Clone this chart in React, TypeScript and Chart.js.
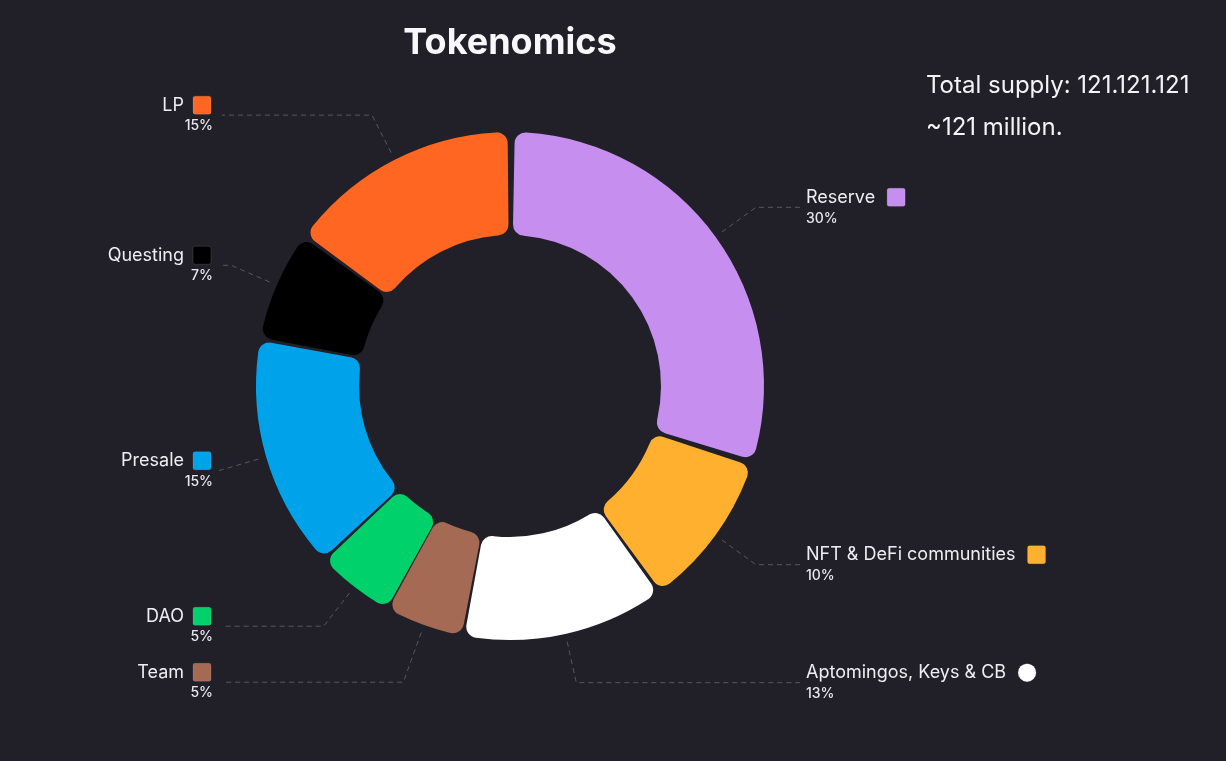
import React, { useEffect, useRef } from 'react';
import { Chart, registerables } from 'chart.js';

Chart.register(...registerables);

const categories = ['Reserve', 'NFT & DeFi communities', 'Aptomingos, Keys & CB', 'Team', 'DAO', 'Presale', 'Questing', 'LP'];
const shares = [30, 10, 13, 5, 5, 15, 7, 15];
const sliceColors = ['#C68EEF', '#FFB02E', '#FFFFFF', '#A56A53', '#00D16B', '#00A3E9', '#000000', '#FF6622'];
const markerShapes = ['square', 'square', 'circle', 'square', 'square', 'square', 'square', 'square'];
const titleText = 'Tokenomics';
const supplyLines = ['Total supply: 121.121.121', '~121 million.'];

const BG = '#211F28';
const FONT = 'Inter, "Noto Sans", sans-serif';

const labelPlugin = {
  id: 'tokenLabels',
  afterDraw(chart: any) {
    const ctx = chart.ctx as CanvasRenderingContext2D;
    const meta = chart.getDatasetMeta(0);
    const rightCol = 800;
    const leftCol = 222;
    const minGap = 56;

    const items = meta.data.map((arc: any, i: number) => {
      const p = arc.getProps(['x', 'y', 'startAngle', 'endAngle', 'outerRadius'], true);
      const mid = (p.startAngle + p.endAngle) / 2;
      const R = p.outerRadius;
      const c = Math.cos(mid);
      const s = Math.sin(mid);
      const right = c >= 0;
      const start = { x: p.x + c * (R + 12), y: p.y + s * (R + 12) };
      const e = { x: p.x + c * (R + 54), y: p.y + s * (R + 54) };
      return { i, mid, c, s, cx: p.x, cy: p.y, right, start, elbow: e, labelY: e.y };
    });

    [true, false].forEach((side) => {
      const list = items.filter((it: any) => it.right === side).sort((a: any, b: any) => a.labelY - b.labelY);
      for (let k = 1; k < list.length; k++) {
        if (list[k].labelY < list[k - 1].labelY + minGap) {
          const it = list[k];
          it.labelY = list[k - 1].labelY + minGap;
          const r = (it.labelY - it.cy) / it.s;
          it.elbow = { x: it.cx + it.c * r, y: it.labelY };
        }
      }
    });

    ctx.save();
    // leader lines
    ctx.strokeStyle = 'rgba(255,255,255,0.25)';
    ctx.lineWidth = 1;
    ctx.setLineDash([5, 4]);
    items.forEach((it: any) => {
      ctx.beginPath();
      ctx.moveTo(it.start.x, it.start.y);
      ctx.lineTo(it.elbow.x, it.elbow.y);
      if (it.right && it.elbow.x < rightCol) ctx.lineTo(rightCol, it.elbow.y);
      if (!it.right && it.elbow.x > leftCol) ctx.lineTo(leftCol, it.elbow.y);
      ctx.stroke();
    });
    ctx.setLineDash([]);

    // labels
    items.forEach((it: any) => {
      const name = categories[it.i];
      const pct = shares[it.i] + '%';
      const nameY = it.labelY - 10;
      const pctY = it.labelY + 11;
      ctx.textBaseline = 'middle';
      ctx.font = `400 18px ${FONT}`;
      ctx.fillStyle = '#EEEEF2';
      let boxX: number;
      if (it.right) {
        ctx.textAlign = 'left';
        ctx.fillText(name, rightCol + 6, nameY);
        boxX = rightCol + 6 + ctx.measureText(name).width + 12;
        ctx.font = `500 14px ${FONT}`;
        ctx.fillStyle = '#E8E8EE';
        ctx.fillText(pct, rightCol + 6, pctY);
      } else {
        ctx.textAlign = 'right';
        ctx.fillText(name, 184, nameY);
        boxX = 193;
        ctx.font = `500 14px ${FONT}`;
        ctx.fillStyle = '#E8E8EE';
        ctx.fillText(pct, 213, pctY);
      }
      ctx.fillStyle = sliceColors[it.i];
      ctx.strokeStyle = 'rgba(255,255,255,0.12)';
      ctx.lineWidth = 1;
      ctx.beginPath();
      if (markerShapes[it.i] === 'circle') {
        ctx.arc(boxX + 9, nameY, 9, 0, Math.PI * 2);
      } else {
        ctx.roundRect(boxX, nameY - 9, 18, 18, 2);
      }
      ctx.fill();
      ctx.stroke();
    });

    // title
    ctx.textAlign = 'center';
    ctx.textBaseline = 'middle';
    ctx.fillStyle = '#F8F8FA';
    ctx.font = `700 36px ${FONT}`;
    ctx.fillText(titleText, 510, 43);

    // supply text
    ctx.textAlign = 'left';
    ctx.font = `400 24px ${FONT}`;
    ctx.fillStyle = '#F4F4F6';
    supplyLines.forEach((line, k) => ctx.fillText(line, 926, 86 + k * 42));
    ctx.restore();
  },
};

export default function App() {
  const ref = useRef<HTMLCanvasElement | null>(null);
  useEffect(() => {
    if (!ref.current) return;
    const chart = new Chart(ref.current, {
      type: 'doughnut',
      data: {
        labels: categories,
        datasets: [
          {
            data: shares,
            backgroundColor: sliceColors,
            borderWidth: 0,
            borderRadius: 11,
            spacing: 8,
            hoverOffset: 0,
          },
        ],
      },
      options: {
        responsive: false,
        animation: false,
        radius: 250,
        cutout: '58.8%',
        layout: { padding: { left: 0, right: 206, top: 11, bottom: 0 } },
        plugins: {
          legend: { display: false },
          title: { display: false },
          tooltip: { enabled: false },
        },
      },
      plugins: [labelPlugin],
    });
    return () => chart.destroy();
  }, []);

  return (
    <div style={{ position: 'fixed', inset: 0, background: BG }}>
      <canvas ref={ref} width={1226} height={761} style={{ position: 'absolute', left: 0, top: 0 }} />
    </div>
  );
}
